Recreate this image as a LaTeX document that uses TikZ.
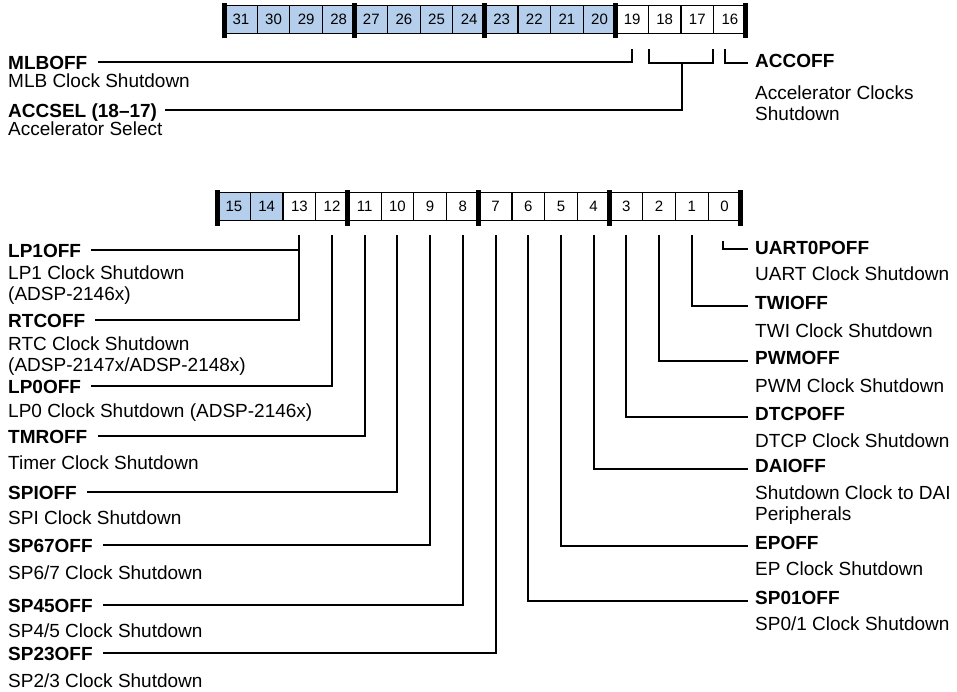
\documentclass[tikz,border=0pt]{standalone}
\usepackage{fontspec}
\setmainfont{Liberation Sans}
\definecolor{regblue}{RGB}{180,206,236}
\begin{document}
\begin{tikzpicture}[x=1pt,y=-1pt,
  cell/.style={draw, line width=1.2pt, minimum width=32.6pt, minimum height=28pt, inner sep=0pt, font=\fontsize{15}{15}\selectfont, anchor=north west},
  bcell/.style={cell, minimum width=32.7pt},
  lbl/.style={font=\fontsize{19}{21}\selectfont\bfseries, anchor=base west, inner sep=0pt, text height=13.6pt, text depth=0pt},
  dsc/.style={font=\fontsize{19}{21}\selectfont, anchor=base west, inner sep=0pt},
  conn/.style={line width=2pt},
  bar/.style={fill=black}
]
\useasboundingbox (0,0) rectangle (957,691);

% ---------- top register ----------
\foreach \b [count=\i from 0] in {31,30,...,20}
  \node[cell, fill=regblue] (t\b) at ({224+\i*32.6},5) {\b};
\foreach \b [count=\i from 12] in {19,18,17,16}
  \node[cell, fill=white] (t\b) at ({224+\i*32.6},5) {\b};
\foreach \k in {0,4,8,12,16}
  \fill[bar] ({224+\k*32.6-2.5},3) rectangle ({224+\k*32.6+2.5},38);

% ---------- bottom register ----------
\foreach \b [count=\i from 0] in {15,14}
  \node[bcell, fill=regblue] (b\b) at ({217+\i*32.7},192) {\b};
\foreach \b [count=\i from 2] in {13,12,...,0}
  \node[bcell, fill=white] (b\b) at ({217+\i*32.7},192) {\b};
\foreach \k in {0,4,8,12,16}
  \fill[bar] ({217+\k*32.7-2.5},190) rectangle ({217+\k*32.7+2.5},226);

% ---------- connector end points ----------
\coordinate (v19) at ([yshift=-15pt]t19.south);
\coordinate (bl) at ([xshift=1pt,yshift=-15pt]t18.south west);
\coordinate (br) at ([xshift=-1pt,yshift=-15pt]t17.south east);
\coordinate (bm) at ([yshift=-29pt]t18.south east);
\coordinate (v16) at ([xshift=12pt,yshift=-15pt]t16.south west);
\foreach \b in {1,...,13}
  \coordinate (v\b) at ([yshift=-14pt]b\b.south);
\coordinate (v0) at ([xshift=-1pt,yshift=-20pt]b0.south);

% ---------- top labels ----------
\node[lbl] (mlb) at (8,69) {MLBOFF};
\node[dsc] (mlbd) at (8,87) {MLB Clock Shutdown};
\node[lbl] (accsel) at (8,117) {ACCSEL (18–17)};
\node[dsc] (accseld) at (8,135) {Accelerator Select};
\node[lbl] (accoff) at (755,67) {ACCOFF};
\node[dsc] (accoffd) at (755,99) {Accelerator Clocks};
\node[dsc] (accoffd2) at (755,120) {Shutdown};

% ---------- bottom-left labels ----------
\node[lbl] (lp1) at (8,257) {LP1OFF};
\node[dsc] (lp1d) at (8,279) {LP1 Clock Shutdown};
\node[dsc] (lp1d2) at (8,300) {(ADSP-2146x)};
\node[lbl] (rtc) at (8,327) {RTCOFF};
\node[dsc] (rtcd) at (8,350) {RTC Clock Shutdown};
\node[dsc] (rtcd2) at (8,371) {(ADSP-2147x/ADSP-2148x)};
\node[lbl] (lp0) at (8,393) {LP0OFF};
\node[dsc] (lp0d) at (8,417) {LP0 Clock Shutdown (ADSP-2146x)};
\node[lbl] (tmr) at (8,443) {TMROFF};
\node[dsc] (tmrd) at (8,469) {Timer Clock Shutdown};
\node[lbl] (spi) at (8,499) {SPIOFF};
\node[dsc] (spid) at (8,524) {SPI Clock Shutdown};
\node[lbl] (sp67) at (8,552) {SP67OFF};
\node[dsc] (sp67d) at (8,579) {SP6/7 Clock Shutdown};
\node[lbl] (sp45) at (8,612) {SP45OFF};
\node[dsc] (sp45d) at (8,637) {SP4/5 Clock Shutdown};
\node[lbl] (sp23) at (8,660) {SP23OFF};
\node[dsc] (sp23d) at (8,687) {SP2/3 Clock Shutdown};

% ---------- bottom-right labels ----------
\node[lbl] (uart) at (755,254) {UART0POFF};
\node[dsc] (uartd) at (755,280) {UART Clock Shutdown};
\node[lbl] (twi) at (755,309) {TWIOFF};
\node[dsc] (twid) at (755,337) {TWI Clock Shutdown};
\node[lbl] (pwm) at (755,364) {PWMOFF};
\node[dsc] (pwmd) at (755,392) {PWM Clock Shutdown};
\node[lbl] (dtcp) at (755,420) {DTCPOFF};
\node[dsc] (dtcpd) at (755,447) {DTCP Clock Shutdown};
\node[lbl] (dai) at (755,472) {DAIOFF};
\node[dsc] (daid) at (755,499) {Shutdown Clock to DAI};
\node[dsc] (daid2) at (755,520) {Peripherals};
\node[lbl] (ep) at (755,549) {EPOFF};
\node[dsc] (epd) at (755,575) {EP Clock Shutdown};
\node[lbl] (sp01) at (755,604) {SP01OFF};
\node[dsc] (sp01d) at (755,630) {SP0/1 Clock Shutdown};

% ---------- connectors, top ----------
\draw[conn] ([xshift=10pt]mlb.east) -| (v19);
\draw[conn] (bl) |- (bm) -| (br);
\draw[conn] ([xshift=8pt]accsel.east) -| (bm);
\draw[conn] (v16) |- ([xshift=-7pt,yshift=-3pt]accoff.west);

% ---------- connectors, bottom left ----------
\draw[conn] ([xshift=10pt]lp1.east) -| (v13);
\draw[conn] ([xshift=10pt]rtc.east) -| (v13);
\draw[conn] ([xshift=10pt]lp0.east) -| (v12);
\draw[conn] ([xshift=10pt]tmr.east) -| (v11);
\draw[conn] ([xshift=10pt]spi.east) -| (v10);
\draw[conn] ([xshift=10pt]sp67.east) -| (v9);
\draw[conn] ([xshift=10pt]sp45.east) -| (v8);
\draw[conn] ([xshift=10pt]sp23.east) -| (v7);

% ---------- connectors, bottom right ----------
\draw[conn] (v0) |- ([xshift=-7pt,yshift=-2pt]uart.west);
\draw[conn] (v1) |- ([xshift=-7pt,yshift=-3.5pt]twi.west);
\draw[conn] (v2) |- ([xshift=-7pt,yshift=-3.5pt]pwm.west);
\draw[conn] (v3) |- ([xshift=-7pt,yshift=-3.5pt]dtcp.west);
\draw[conn] (v4) |- ([xshift=-7pt,yshift=-3.5pt]dai.west);
\draw[conn] (v5) |- ([xshift=-7pt,yshift=-3.5pt]ep.west);
\draw[conn] (v6) |- ([xshift=-7pt,yshift=-3.5pt]sp01.west);
\end{tikzpicture}
\end{document}
